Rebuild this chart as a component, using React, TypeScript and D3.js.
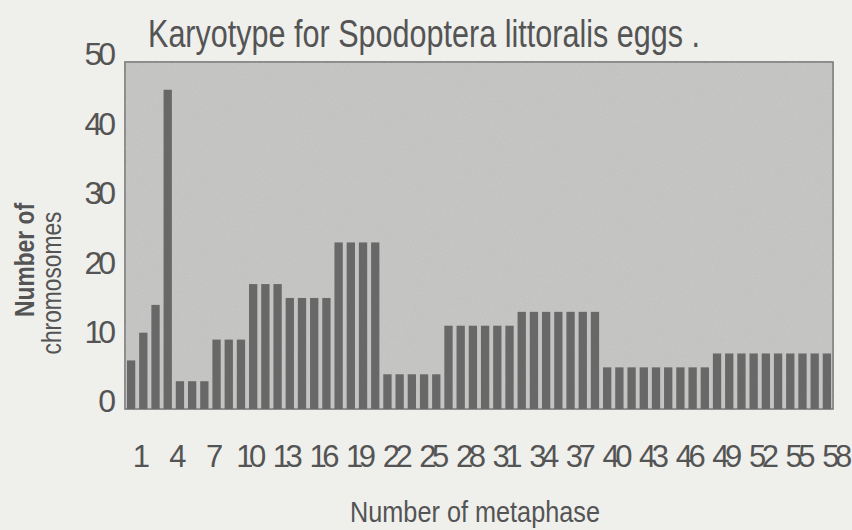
import * as d3 from 'd3';

// metaphase 1..58, chromosome counts
const metaphases = d3.range(1, 59);
const chromosomes = [
  7, 11, 15, 46,
  4, 4, 4,
  10, 10, 10,
  18, 18, 18,
  16, 16, 16, 16,
  24, 24, 24, 24,
  5, 5, 5, 5, 5,
  12, 12, 12, 12, 12, 12,
  14, 14, 14, 14, 14, 14, 14,
  6, 6, 6, 6, 6, 6, 6, 6, 6,
  8, 8, 8, 8, 8, 8, 8, 8, 8, 8,
];
const xTicks = d3.range(1, 59, 3);
const yTicks = [0, 10, 20, 30, 40, 50];

const W = 852;
const H = 530;
const plot = { left: 125, right: 833, top: 62, bottom: 409 };
const ink = '#545454';
const font = '"Liberation Sans", Arial, sans-serif';

export default function App() {
  const x = d3
    .scaleBand<number>()
    .domain(metaphases)
    .range([plot.left, plot.right])
    .paddingInner(0.32)
    .paddingOuter(0.16);
  const y = d3.scaleLinear().domain([0, 50]).range([plot.bottom, plot.top]);

  return (
    <svg
      width={W}
      height={H}
      viewBox={`0 0 ${W} ${H}`}
      style={{ position: 'absolute', left: 0, top: 0, background: '#efefec' }}
    >
      <defs>
        <filter id="grain" x="0" y="0" width="100%" height="100%">
          <feTurbulence type="fractalNoise" baseFrequency="0.9" numOctaves={2} seed={3} />
          <feColorMatrix
            type="matrix"
            values="0 0 0 0 0.45  0 0 0 0 0.45  0 0 0 0 0.45  0 0 0 0.45 0"
          />
          <feComposite in2="SourceGraphic" operator="in" />
        </filter>
      </defs>

      <rect
        x={plot.left}
        y={plot.top}
        width={plot.right - plot.left}
        height={plot.bottom - plot.top}
        fill="#c9c9c7"
        stroke="#6e6e6e"
        strokeWidth={1.5}
      />
      <rect
        x={plot.left}
        y={plot.top}
        width={plot.right - plot.left}
        height={plot.bottom - plot.top}
        fill="#c9c9c7"
        filter="url(#grain)"
      />

      {chromosomes.map((v, i) => (
        <rect
          key={i}
          x={x(metaphases[i])}
          y={y(v)}
          width={x.bandwidth()}
          height={y(0) - y(v)}
          fill="#686868"
        />
      ))}

      <text
        x={148}
        y={47}
        fontFamily={font}
        fontSize={38}
        fill={ink}
        textLength={552}
        lengthAdjust="spacingAndGlyphs"
      >
        Karyotype for Spodoptera littoralis eggs .
      </text>

      {yTicks.map((t) => (
        <text
          key={t}
          x={112}
          y={y(t) - 5}
          textAnchor="end"
          dominantBaseline="middle"
          fontFamily={font}
          fontSize={32}
          letterSpacing={-4}
          fill={ink}
        >
          {t}
        </text>
      ))}

      {xTicks.map((t) => (
        <text
          key={t}
          x={(x(t) ?? 0) + x.bandwidth() / 2 + 8}
          y={467}
          textAnchor="middle"
          fontFamily={font}
          fontSize={31}
          letterSpacing={-4.5}
          fill={ink}
        >
          {t}
        </text>
      ))}

      <text
        transform="translate(34,260) rotate(-90)"
        textAnchor="middle"
        fontFamily={font}
        fontSize={28}
        fontWeight={700}
        textLength={114}
        lengthAdjust="spacingAndGlyphs"
        fill={ink}
      >
        Number of
      </text>
      <text
        transform="translate(61,283) rotate(-90)"
        textAnchor="middle"
        fontFamily={font}
        fontSize={28}
        textLength={143}
        lengthAdjust="spacingAndGlyphs"
        fill={ink}
      >
        chromosomes
      </text>

      <text
        x={475}
        y={522}
        textAnchor="middle"
        fontFamily={font}
        fontSize={30}
        textLength={250}
        lengthAdjust="spacingAndGlyphs"
        fill={ink}
      >
        Number of metaphase
      </text>
    </svg>
  );
}
